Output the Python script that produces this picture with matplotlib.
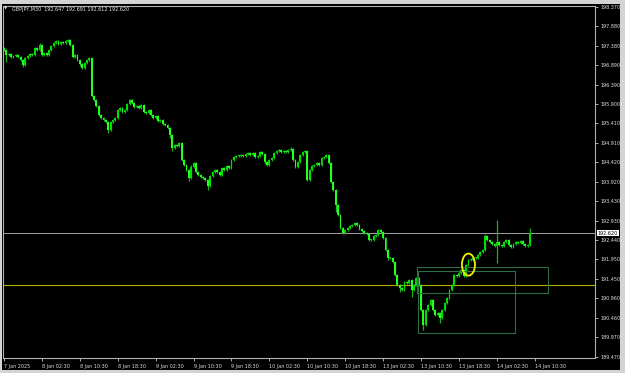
import matplotlib
matplotlib.use('Agg')
import matplotlib.pyplot as plt
from matplotlib.patches import Rectangle, Ellipse

# M30 closes, one per bar (7 Jan 18:30 .. 14 Jan ~11:30)
closes = [
    197.28, 197.15, 197.18, 197.10, 197.12, 197.15, 197.10, 197.02, 196.90, 197.07,
    197.12, 197.18, 197.15, 197.33, 197.28, 197.40, 197.15, 197.20, 197.15, 197.28,
    197.38, 197.45, 197.50, 197.43, 197.48, 197.45, 197.50, 197.53, 197.40, 197.10,
    197.15, 197.02, 196.92, 196.82, 196.95, 197.02, 197.07, 196.11, 196.01, 195.85,
    195.62, 195.55, 195.50, 195.45, 195.24, 195.45, 195.50, 195.55, 195.75, 195.80,
    195.70, 195.75, 195.90, 196.01, 195.93, 195.83, 195.85, 195.80, 195.88, 195.70,
    195.67, 195.75, 195.62, 195.55, 195.60, 195.47, 195.50, 195.39, 195.37, 195.29,
    195.12, 194.78, 194.86, 194.84, 194.91, 194.48, 194.35, 194.23, 194.02, 194.30,
    194.40, 194.17, 194.10, 194.05, 194.02, 193.97, 193.82, 194.07, 194.17, 194.23,
    194.17, 194.10, 194.28, 194.23, 194.33, 194.28, 194.48, 194.56, 194.58, 194.58,
    194.61, 194.58, 194.63, 194.66, 194.61, 194.66, 194.56, 194.58, 194.68, 194.63,
    194.43, 194.35, 194.48, 194.53, 194.66, 194.71, 194.73, 194.68, 194.71, 194.68,
    194.73, 194.76, 194.48, 194.30, 194.43, 194.61, 194.68, 194.71, 193.97, 194.23,
    194.33, 194.35, 194.40, 194.35, 194.53, 194.56, 194.61, 194.40, 193.92, 193.72,
    193.34, 193.08, 192.75, 192.62, 192.70, 192.75, 192.80, 192.83, 192.88, 192.83,
    192.73, 192.67, 192.62, 192.60, 192.45, 192.45, 192.55, 192.57, 192.70, 192.65,
    192.50, 192.19, 191.99, 191.99, 191.89, 191.56, 191.30, 191.22, 191.17, 191.38,
    191.35, 191.43, 191.17, 191.30, 191.48, 191.30, 190.67, 190.28, 190.67, 190.79,
    190.92, 190.67, 190.54, 190.59, 190.46, 190.67, 190.84, 190.97, 191.17, 191.30,
    191.56, 191.53, 191.61, 191.68, 191.53, 191.81, 191.94, 191.94, 191.99, 191.99,
    192.06, 192.14, 192.19, 192.55, 192.45, 192.39, 192.34, 192.29, 192.39, 192.32,
    192.29, 192.39, 192.45, 192.32, 192.27, 192.34, 192.39, 192.37, 192.42, 192.34,
    192.29, 192.32, 192.62,
]
first_open = 197.33

# longer wicks that stand out
high_spikes = {15: 197.46, 37: 197.10, 79: 194.36, 121: 194.80, 203: 192.60,
               208: 192.95, 222: 192.75}
low_spikes = {1: 196.97, 8: 196.85, 32: 196.86, 44: 195.17, 70: 195.05, 71: 194.72,
              78: 193.95, 86: 193.72, 110: 194.38, 140: 193.16, 162: 191.94,
              167: 191.12, 172: 190.99, 177: 190.16, 184: 190.33, 208: 191.86}

price_ticks = [198.370, 197.880, 197.380, 196.890, 196.390, 195.900, 195.410,
               194.910, 194.420, 193.920, 193.430, 192.930, 192.440, 191.950,
               191.450, 190.960, 190.460, 189.970, 189.470]
time_labels = ['7 Jan 2025', '8 Jan 02:30', '8 Jan 10:30', '8 Jan 18:30',
               '9 Jan 02:30', '9 Jan 10:30', '9 Jan 18:30', '10 Jan 02:30',
               '10 Jan 10:30', '10 Jan 18:30', '13 Jan 02:30', '13 Jan 10:30',
               '13 Jan 18:30', '14 Jan 02:30', '14 Jan 10:30']
bars_per_label = 16

header = 'GBPJPY,M30  192.647 192.691 192.612 192.620'
bid = 192.620
level = 191.30
zone_a = (174.3, 229.5, 191.10, 191.76)   # x0, x1, y0, y1
zone_b = (174.7, 215.6, 190.08, 191.66)
mark = (196.0, 191.82, 5.5, 0.56)         # x, y, w, h

opens = [first_open] + closes[:-1]
n = len(closes)

fig = plt.figure(figsize=(6.25, 3.73), dpi=100, facecolor='#d4d4d4')
fig.patches.append(Rectangle((2 / 625, 3 / 373), 618 / 625, 366 / 373,
                             transform=fig.transFigure, facecolor='black',
                             edgecolor='none', zorder=0))
ax = fig.add_axes([2.5 / 625, 15 / 373, 592.5 / 625, 352 / 373])
ax.set_zorder(2)
ax.set_facecolor('black')

bull_col = '#00dd00'
bear_col = '#22ff22'
wick_col = '#18b418'
for i in range(n):
    o, c = opens[i], closes[i]
    hi = high_spikes.get(i, max(o, c) + 0.02)
    lo = low_spikes.get(i, min(o, c) - 0.02)
    ax.vlines(i, lo, hi, color=wick_col, linewidth=0.9, zorder=2)
    col = bull_col if c >= o else bear_col
    ax.bar(i, max(abs(c - o), 0.015), bottom=min(o, c), width=0.8,
           color=col, linewidth=0, zorder=3)

ax.axhline(bid, color='#a0a0a0', linewidth=0.7, zorder=1)
ax.axhline(level, color='#b4b000', linewidth=0.8, zorder=1)

for x0, x1, y0, y1 in (zone_a, zone_b):
    ax.add_patch(Rectangle((x0, y0), x1 - x0, y1 - y0, fill=False,
                           edgecolor='#2f6e45', linewidth=0.8, zorder=4))
ax.add_patch(Ellipse((mark[0], mark[1]), mark[2], mark[3], fill=False,
                     edgecolor='#f0f000', linewidth=1.3, zorder=5))

ax.set_xlim(-0.63, 249.4)
ax.set_ylim(189.445, 198.395)

ax.yaxis.tick_right()
ax.set_yticks(price_ticks)
ax.set_yticklabels(['%.3f' % p for p in price_ticks])
ax.set_xticks([k * bars_per_label for k in range(len(time_labels))])
ax.set_xticklabels(time_labels, ha='left')
ax.tick_params(axis='both', colors='#c8c8c8', labelsize=3.5, length=2.5,
               width=0.6, direction='out', pad=1.5)
for lab in ax.get_xticklabels():
    lab.set_color('#dcdcdc')
for lab in ax.get_yticklabels():
    lab.set_color('#dcdcdc')
for s in ax.spines.values():
    s.set_color('#b0b0b0')
    s.set_linewidth(0.8)

ax.text(1.005, (bid - 189.445) / (198.395 - 189.445), '%.3f' % bid,
        transform=ax.transAxes, fontsize=3.5, color='black', va='center',
        ha='left', bbox=dict(boxstyle='square,pad=0.15', facecolor='white',
                             edgecolor='none'), zorder=6)

fig.text(12 / 625, 1 - 9 / 373, header, fontsize=3.5, color='#e8e8e8',
         va='center', ha='left', zorder=7)
fig.text(6 / 625, 1 - 9 / 373, '\u25bc', fontsize=3, color='#e8e8e8',
         va='center', ha='center', zorder=7)

fig.savefig('out.png', dpi=100, facecolor=fig.get_facecolor())
